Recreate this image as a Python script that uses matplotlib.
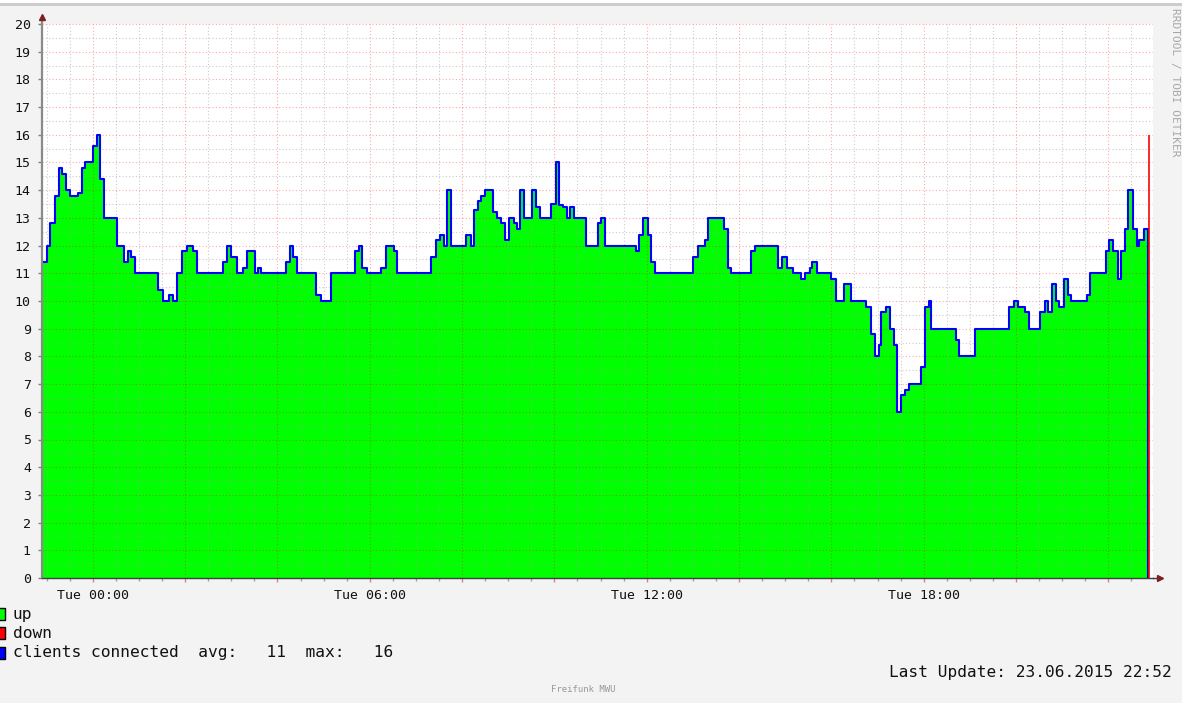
import matplotlib
matplotlib.use("Agg")
import matplotlib.pyplot as plt
from matplotlib.ticker import MultipleLocator, FuncFormatter
from matplotlib.patches import Rectangle

# step start times, minutes relative to Tue 00:00, and client counts
minutes = [-66, -59, -55, -49, -44, -40, -35, -30, -19, -14, -10, 0, 5, 10, 14,
           31, 40, 46, 50, 55, 85, 91, 99, 104, 110, 116, 122, 130, 135,
           169, 174, 180, 187, 195, 201, 211, 215, 219, 251, 256, 260, 265,
           290, 296, 310, 341, 346, 350, 356, 375, 381, 391, 395,
           439, 446, 451, 456, 460, 465, 485, 491, 495, 501, 504, 510, 520,
           526, 530, 536, 541, 547, 551, 555, 560, 571, 576, 581, 595, 602,
           606, 611, 616, 620, 625, 641, 656, 661, 666, 706, 710, 715, 721,
           726, 731, 780, 786, 796, 800, 820, 825, 830, 856, 861, 891, 896,
           902, 910, 921, 926, 932, 935, 941, 960, 966, 977, 986, 1005, 1011,
           1017, 1022, 1025, 1031, 1036, 1041, 1045, 1050, 1056, 1061, 1076,
           1082, 1087, 1090, 1122, 1126, 1147, 1191, 1197, 1202, 1211, 1217,
           1231, 1237, 1242, 1247, 1252, 1256, 1262, 1267, 1271, 1292, 1296,
           1317, 1321, 1326, 1332, 1337, 1342, 1346, 1352, 1357, 1360, 1366]
clients = [11.4, 12, 12.8, 13.8, 14.8, 14.6, 14.0, 13.8, 13.9, 14.8, 15.0, 15.6, 16, 14.4, 13,
           12, 11.4, 11.8, 11.6, 11, 10.4, 10, 10.2, 10, 11, 11.8, 12, 11.8, 11,
           11.4, 12, 11.6, 11, 11.2, 11.8, 11, 11.2, 11, 11.4, 12, 11.6, 11,
           10.2, 10, 11, 11.8, 12, 11.2, 11, 11.2, 12, 11.8, 11,
           11.6, 12.2, 12.4, 12, 14, 12, 12.4, 12, 13.3, 13.6, 13.8, 14, 13.2,
           13, 12.8, 12.2, 13, 12.8, 12.6, 14, 13, 14, 13.4, 13, 13.5, 15,
           13.45, 13.4, 13, 13.4, 13, 12, 12.8, 13, 12, 11.8, 12.4, 13, 12.4,
           11.4, 11, 11.6, 12, 12.2, 13, 12.6, 11.2, 11, 11.8, 12, 11.2, 11.6,
           11.2, 11, 10.8, 11, 11.2, 11.4, 11, 10.8, 10, 10.6, 10, 9.8, 8.8,
           8.0, 8.4, 9.6, 9.8, 9, 8.4, 6.0, 6.6, 6.8, 7, 7.6,
           9.8, 10, 9, 8.6, 8, 9, 9.8, 10, 9.8, 9.6, 9,
           9.6, 10, 9.6, 10.6, 10, 9.8, 10.8, 10.2, 10, 10.2, 11,
           11.8, 12.2, 11.8, 10.8, 11.8, 12.6, 14, 12.6, 12, 12.2, 12.6]
end_minute = 1371
down_minute = [1373]
down_value = [16]
time_labels = {0: "Tue 00:00", 360: "Tue 06:00", 720: "Tue 12:00", 1080: "Tue 18:00"}
last_update = "23.06.2015 22:52"

W, H = 1182, 703
MONO = "DejaVu Sans Mono"

fig = plt.figure(figsize=(W / 100, H / 100), dpi=100, facecolor="#F3F3F3")
ax = fig.add_axes([42 / W, 1 - 578 / H, (1153 - 42) / W, (578 - 24) / H])
ax.set_facecolor("white")

xs = minutes + [end_minute]
ys = clients + [clients[-1]]
ax.fill_between(xs, ys, step="post", color="#00FF00", linewidth=0, zorder=1)
ax.step(xs, ys, where="post", color="#0000FF", linewidth=1.5, zorder=3)
ax.plot([end_minute, end_minute], [clients[-1], 0], color="#0000FF", linewidth=1.5, zorder=3)
ax.vlines(down_minute, 0, down_value, color="#FF0000", linewidth=1.2, zorder=3)

ax.set_xlim(-66, 1378)
ax.set_ylim(0, 20)

ax.xaxis.set_major_locator(MultipleLocator(120))
ax.xaxis.set_minor_locator(MultipleLocator(30))
ax.xaxis.set_major_formatter(FuncFormatter(lambda v, p: time_labels.get(int(round(v)), "")))
ax.yaxis.set_major_locator(MultipleLocator(1))
ax.yaxis.set_minor_locator(MultipleLocator(0.5))

ax.set_axisbelow(False)
ax.grid(which="minor", color="#A0A0A0", alpha=0.55, linestyle=(0, (1, 2)), linewidth=0.8)
ax.grid(which="major", color="#FF0000", alpha=0.35, linestyle=(0, (1, 2)), linewidth=0.8)

ax.tick_params(axis="both", which="major", length=3, width=1, color="#E08080",
               labelsize=9.5, pad=5, labelcolor="#111111")
ax.tick_params(axis="both", which="minor", length=2, width=1, color="#A0A0A0")
ax.tick_params(axis="y", which="major", color="#808080")
ax.tick_params(axis="y", which="minor", length=0)
for lab in ax.get_xticklabels() + ax.get_yticklabels():
    lab.set_family(MONO)

for side in ("top", "right"):
    ax.spines[side].set_visible(False)
ax.spines["left"].set_color("#8A8A8A")
ax.spines["left"].set_linewidth(1.6)
ax.spines["bottom"].set_color("#404040")
ax.spines["bottom"].set_linewidth(1.0)
ax.spines["left"].set_zorder(4)
ax.spines["bottom"].set_zorder(4)

# axis arrows
ax.plot([0, 0], [1.0, 1.01], color="#8A8A8A", linewidth=1.6, transform=ax.transAxes, clip_on=False)
ax.plot([1.0, 1.004], [0, 0], color="#404040", linewidth=1, transform=ax.transAxes, clip_on=False)
ax.plot([0], [1.012], marker="^", markersize=5, color="#7F1F1F", transform=ax.transAxes,
        clip_on=False, zorder=5)
ax.plot([1.006], [0], marker=">", markersize=5, color="#7F1F1F", transform=ax.transAxes,
        clip_on=False, zorder=5)

# top border band
fig.add_artist(Rectangle((0, 1 - 6 / H), 1, 3 / H, transform=fig.transFigure,
                         facecolor="#CCCCCC", edgecolor="none"))
fig.add_artist(Rectangle((0, 1 - 3 / H), 1, 3 / H, transform=fig.transFigure,
                         facecolor="white", edgecolor="none"))

# legend
span = end_minute - minutes[0]
durations = [b - a for a, b in zip(xs[:-1], xs[1:])]
avg = sum(v * d for v, d in zip(clients, durations)) / span
legend_rows = [("#00FF00", "up", 614), ("#FF0000", "down", 633),
               ("#0000FF", f"clients connected  avg:{avg:5.0f}  max:{max(clients):5.0f}", 653)]
for color, label, ypix in legend_rows:
    fig.add_artist(Rectangle((-4 / W, 1 - (ypix + 6) / H), 9 / W, 12 / H, transform=fig.transFigure,
                             facecolor=color, edgecolor="black", linewidth=1))
    fig.text(13 / W, 1 - ypix / H, label, family=MONO, fontsize=11.7, va="center", ha="left",
             color="#111111")

fig.text(1172 / W, 1 - 673 / H, f"Last Update: {last_update}", family=MONO, fontsize=11.6,
         va="center", ha="right", color="#111111")
fig.text(583 / W, 1 - 690 / H, "Freifunk MWU", family=MONO, fontsize=6.5, color="#999999",
         va="center", ha="center")
fig.text(1175 / W, 1 - 8 / H, "RRDTOOL / TOBI OETIKER", family=MONO, fontsize=8, color="#A8A8A8",
         rotation=270, va="top", ha="center")

fig.savefig("out.png", dpi=100, facecolor=fig.get_facecolor())
